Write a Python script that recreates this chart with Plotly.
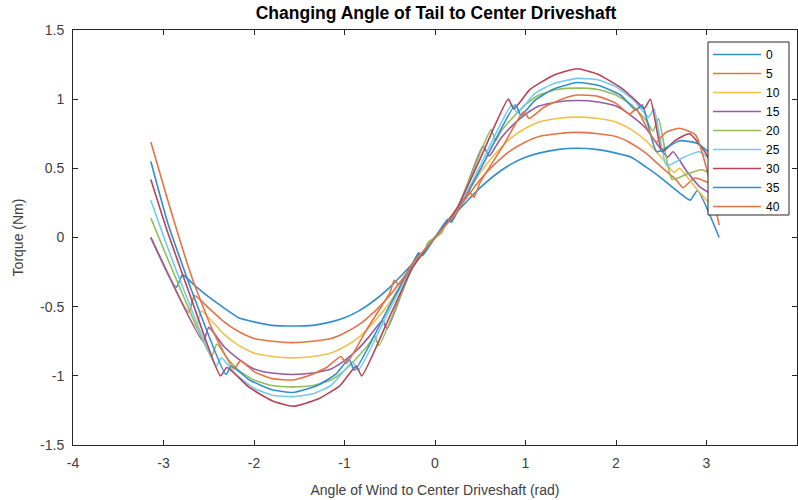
import plotly.graph_objects as go

# ---------------- data ----------------
names = ["0", "5", "10", "15", "20", "25", "30", "35", "40"]
colors = ["#338ECA", "#E17547", "#F1C14D", "#9859A5", "#92BD59",
          "#71CBF1", "#B54359", "#338ECA", "#E17547"]

x_0 = [-3.14,-2.86,-2.79,-2.65,-2.5,-2.33,-2.17,-2.0,-1.8,-1.57,-1.35,-1.15,-1.0,-0.84,-0.66,-0.5,-0.35,-0.25,-0.18,-0.14,
       -0.08,0,0.08,0.14,0.18,0.25,0.35,0.5,0.66,0.84,1.0,1.15,1.35,1.57,1.8,2.0,2.17,2.33,2.5,2.65,2.82,2.9,3.14]
y_0 = [0,-0.36,-0.27,-0.35,-0.43,-0.51,-0.58,-0.61,-0.635,-0.64,-0.635,-0.61,-0.58,-0.53,-0.45,-0.36,-0.26,-0.19,-0.12,-0.13,
       -0.06,0,0.06,0.13,0.12,0.19,0.26,0.36,0.45,0.53,0.58,0.61,0.635,0.645,0.635,0.61,0.58,0.51,0.43,0.35,0.27,0.34,0.0]

x_5 = [-3.14,-2.72,-2.66,-2.5,-2.33,-2.17,-2.0,-1.8,-1.57,-1.35,-1.15,-1.0,-0.84,-0.66,-0.5,-0.35,-0.25,-0.12,0,0.12,
       0.25,0.35,0.5,0.66,0.84,1.0,1.15,1.35,1.57,1.8,2.0,2.17,2.33,2.5,2.66,2.74,2.87,3.14]
y_5 = [0,-0.54,-0.42,-0.51,-0.61,-0.68,-0.73,-0.75,-0.76,-0.75,-0.73,-0.69,-0.63,-0.53,-0.42,-0.29,-0.2,-0.1,0,0.1,
       0.2,0.29,0.42,0.53,0.63,0.69,0.73,0.75,0.76,0.75,0.73,0.68,0.61,0.51,0.42,0.36,0.43,0.36]

x_10 = [-3.14,-2.64,-2.58,-2.5,-2.33,-2.17,-2.0,-1.8,-1.57,-1.35,-1.15,-1.0,-0.84,-0.66,-0.5,-0.35,-0.25,-0.12,0,0.12,
        0.25,0.35,0.5,0.66,0.84,1.0,1.15,1.35,1.57,1.8,2.0,2.17,2.33,2.5,2.64,2.70,2.88,3.0,3.14]
y_10 = [0,-0.645,-0.53,-0.58,-0.70,-0.78,-0.835,-0.86,-0.87,-0.86,-0.835,-0.79,-0.72,-0.60,-0.47,-0.31,-0.21,-0.1,0,0.1,
        0.21,0.31,0.47,0.60,0.72,0.79,0.835,0.86,0.87,0.86,0.835,0.78,0.70,0.58,0.47,0.50,0.36,0.27,0.18]

x_15 = [-3.14,-2.56,-2.50,-2.33,-2.17,-2.0,-1.8,-1.57,-1.35,-1.15,-1.0,-0.84,-0.72,-0.58,-0.53,-0.35,-0.25,-0.12,0,0.12,
        0.25,0.35,0.53,0.60,0.72,0.84,1.0,1.15,1.35,1.57,1.8,2.0,2.17,2.33,2.45,2.57,2.63,2.78,2.92,3.14]
y_15 = [0,-0.75,-0.65,-0.79,-0.88,-0.95,-0.98,-0.99,-0.98,-0.95,-0.89,-0.80,-0.71,-0.60,-0.66,-0.37,-0.21,-0.1,0,0.1,
        0.21,0.37,0.66,0.59,0.71,0.80,0.89,0.95,0.98,0.99,0.98,0.95,0.88,0.79,0.68,0.58,0.62,0.48,0.37,0.28]

x_20 = [-3.14,-2.95,-2.75,-2.47,-2.41,-2.3,-2.17,-2.0,-1.8,-1.57,-1.35,-1.15,-1.0,-0.85,-0.72,-0.67,-0.62,-0.4,-0.25,-0.12,
        -0.07,0,0.07,0.12,0.25,0.4,0.62,0.67,0.72,0.85,1.0,1.15,1.35,1.57,1.8,2.0,2.17,2.33,2.41,2.47,2.62,2.79,2.95,3.14]
y_20 = [0.14,-0.16,-0.47,-0.86,-0.77,-0.87,-0.96,-1.03,-1.07,-1.08,-1.07,-1.03,-0.96,-0.86,-0.76,-0.71,-0.78,-0.45,-0.22,-0.1,
        -0.03,0,0.03,0.1,0.22,0.45,0.78,0.70,0.76,0.86,0.96,1.03,1.07,1.08,1.07,1.03,0.96,0.85,0.77,0.86,0.42,0.46,0.49,0.42]

x_25 = [-3.14,-2.95,-2.72,-2.42,-2.36,-2.2,-2.0,-1.8,-1.57,-1.35,-1.15,-0.91,-0.85,-0.5,-0.25,-0.12,0,0.12,0.25,0.5,
        0.85,0.91,1.1,1.3,1.57,1.8,2.0,2.2,2.36,2.42,2.56,2.75,2.92,3.14]
y_25 = [0.27,-0.08,-0.47,-0.93,-0.87,-0.99,-1.09,-1.14,-1.15,-1.13,-1.07,-0.90,-0.96,-0.52,-0.20,-0.1,0,0.1,0.20,0.52,
        0.96,0.90,1.04,1.11,1.15,1.14,1.09,0.99,0.87,0.93,0.52,0.58,0.62,0.50]

x_30 = [-3.14,-2.95,-2.7,-2.37,-2.30,-2.06,-1.8,-1.57,-1.3,-1.05,-0.87,-0.81,-0.5,-0.25,-0.12,0,0.12,0.25,0.5,0.81,
        0.87,1.05,1.3,1.57,1.8,2.06,2.25,2.31,2.38,2.51,2.65,2.81,2.95,3.14]
y_30 = [0.42,0.03,-0.43,-1.0,-0.94,-1.08,-1.18,-1.22,-1.17,-1.07,-0.93,-1.0,-0.57,-0.22,-0.1,0,0.1,0.22,0.57,1.0,
        0.93,1.07,1.17,1.22,1.18,1.08,0.97,0.93,1.0,0.62,0.70,0.75,0.65,0.45]

x_35 = [-3.14,-2.95,-2.68,-2.31,-2.25,-2.05,-1.8,-1.57,-1.3,-1.1,-0.95,-0.89,-0.5,-0.25,-0.18,-0.14,0,0.14,0.18,0.25,
        0.5,0.89,0.95,1.1,1.3,1.57,1.8,2.05,2.22,2.29,2.45,2.7,2.9,3.14]
y_35 = [0.55,0.10,-0.40,-0.99,-0.93,-1.03,-1.10,-1.12,-1.07,-0.99,-0.88,-0.96,-0.49,-0.19,-0.11,-0.13,0,0.13,0.11,0.19,
        0.49,0.96,0.88,0.99,1.07,1.12,1.10,1.03,0.92,0.96,0.62,0.70,0.68,0.55]

x_40 = [-3.14,-2.94,-2.68,-2.45,-2.22,-2.15,-2.0,-1.8,-1.57,-1.4,-1.2,-1.04,-0.98,-0.75,-0.5,-0.45,-0.40,-0.25,-0.12,0,0.12,
        0.25,0.38,0.43,0.5,0.75,0.98,1.04,1.2,1.4,1.57,1.8,2.0,2.15,2.22,2.44,2.55,2.70,2.88,3.0,3.14]
y_40 = [0.69,0.24,-0.30,-0.68,-0.95,-0.89,-0.97,-1.02,-1.03,-1.0,-0.94,-0.86,-0.91,-0.66,-0.40,-0.31,-0.34,-0.19,-0.09,0,0.09,
        0.19,0.33,0.29,0.40,0.66,0.91,0.86,0.94,1.0,1.03,1.02,0.97,0.89,0.93,0.69,0.76,0.79,0.74,0.50,0.09]

xs = [x_0, x_5, x_10, x_15, x_20, x_25, x_30, x_35, x_40]
ys = [y_0, y_5, y_10, y_15, y_20, y_25, y_30, y_35, y_40]

x_ticks = [-4, -3, -2, -1, 0, 1, 2, 3, 4]
x_ticklabels = ["-4", "-3", "-2", "-1", "0", "1", "2", "3", "4"]
y_ticks = [-1.5, -1, -0.5, 0, 0.5, 1, 1.5]
y_ticklabels = ["-1.5", "-1", "-0.5", "0", "0.5", "1", "1.5"]

title_text = "Changing Angle of Tail to Center Driveshaft"
x_title = "Angle of Wind to Center Driveshaft (rad)"
y_title = "Torque (Nm)"

# ---------------- figure ----------------
fig = go.Figure()
for n, c, x, y in zip(names, colors, xs, ys):
    fig.add_trace(go.Scatter(x=x, y=y, mode="lines", name=n,
                             line=dict(color=c, width=1.6, shape="spline", smoothing=0.5)))

axis_col = "#262626"
text_col = "#404040"
font_fam = "Liberation Sans, Arial, sans-serif"

# legend frame (white box with dark border), drawn in paper coordinates
L, T, R, B = 708, 42, 789, 215
pl, pt, pw, ph = 73, 30, 724, 415
fig.add_shape(type="rect", xref="paper", yref="paper", layer="above",
              x0=(L - pl) / pw, x1=(R - pl) / pw,
              y0=1 - (B - pt) / ph, y1=1 - (T - pt) / ph,
              fillcolor="white", line=dict(color=axis_col, width=1))

fig.update_layout(
    width=798, height=500,
    margin=dict(l=73, r=1, t=30, b=55),
    paper_bgcolor="white", plot_bgcolor="white",
    font=dict(family=font_fam, size=14, color=text_col),
    title=dict(text="<b>" + title_text + "</b>", x=0.5465, xanchor="center",
               y=1 - 13 / 500, yanchor="middle",
               font=dict(family=font_fam, size=17.5, color="#000000")),
    showlegend=True,
    legend=dict(x=(L - pl) / pw, y=1 - (40 - pt) / ph, xanchor="left", yanchor="top",
                bgcolor="rgba(0,0,0,0)", borderwidth=0,
                font=dict(family=font_fam, size=12, color="#000000"),
                itemwidth=48, tracegroupgap=0),
)
fig.update_xaxes(range=[-4, 4], tickvals=x_ticks, ticktext=x_ticklabels,
                 ticks="inside", ticklen=5, tickcolor=axis_col,
                 showline=True, linecolor=axis_col, linewidth=1, mirror="ticks",
                 showgrid=False, zeroline=False, ticklabelstandoff=5,
                 tickfont=dict(size=14, color=text_col),
                 title=dict(text=x_title, font=dict(size=14, color=text_col), standoff=15))
fig.update_yaxes(range=[-1.5, 1.5], tickvals=y_ticks, ticktext=y_ticklabels,
                 ticks="inside", ticklen=5, tickcolor=axis_col,
                 showline=True, linecolor=axis_col, linewidth=1, mirror="ticks",
                 showgrid=False, zeroline=False, ticklabelstandoff=5,
                 tickfont=dict(size=14, color=text_col),
                 title=dict(text=y_title, font=dict(size=14, color=text_col), standoff=13))

fig.write_html("out.html")
